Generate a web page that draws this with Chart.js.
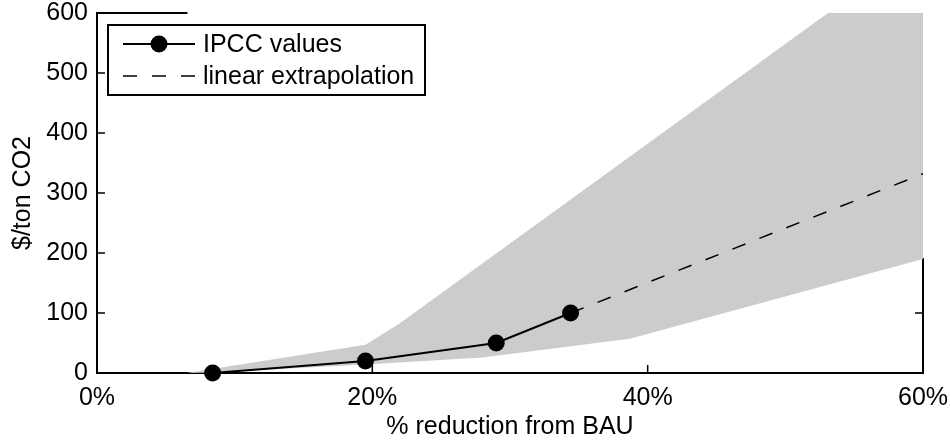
<!DOCTYPE html>
<html>
<head>
<meta charset="utf-8">
<script src="https://cdn.jsdelivr.net/npm/chart.js@4.4.0/dist/chart.umd.min.js"></script>
<style>
  html, body { margin: 0; padding: 0; background: #fff; }
  #wrap { width: 950px; height: 440px; position: relative; }
</style>
</head>
<body>
<div id="wrap"><canvas id="chart"></canvas></div>
<script>
// IPCC marginal cost estimates
const ipccX = [8.4, 19.5, 29, 34.4];
const ipccY = [0, 20, 50, 100];

// dashed extrapolation from the last IPCC point
const extraX = [34.4, 60];
const extraY = [100, 332];

// grey uncertainty band
const upperX = [6.5, 19.5, 22, 53.1, 60];
const upperY = [0, 47, 83, 600, 715];
const lowerX = [6.5, 8.4, 19.5, 28, 38.7, 60];
const lowerY = [0, 1, 14, 26, 57, 190];

const xTicks = [0, 20, 40, 60];
const yTicks = [0, 100, 200, 300, 400, 500, 600];

const FONT = "'Liberation Sans', Arial, Helvetica, sans-serif";
const FS = 25;

const pts = (xs, ys) => xs.map((x, i) => ({ x: x, y: ys[i] }));

const noPad = s => { s.paddingTop = 0; s.paddingBottom = 0; s.paddingLeft = 0; s.paddingRight = 0; };

// matlab-like axes box with inward ticks, drawn under the band
const boxPlugin = {
  id: 'box',
  beforeDatasetsDraw(chart) {
    const { ctx, chartArea: a, scales: { x, y } } = chart;
    const tl = 8;
    ctx.save();
    ctx.strokeStyle = '#000';
    ctx.lineWidth = 2;
    ctx.lineCap = 'square';
    ctx.beginPath();
    // left and bottom full
    ctx.moveTo(a.left, a.top); ctx.lineTo(a.left, a.bottom); ctx.lineTo(a.right, a.bottom);
    // right side only below the band
    const rEnd = y.getPixelForValue(lowerY[lowerY.length - 1]);
    ctx.moveTo(a.right, a.bottom); ctx.lineTo(a.right, rEnd);
    // top only left of the band
    ctx.moveTo(a.left, a.top); ctx.lineTo(x.getPixelForValue(upperX[0]), a.top);
    ctx.stroke();
    // ticks
    ctx.lineWidth = 1.5;
    ctx.lineCap = 'butt';
    ctx.beginPath();
    yTicks.forEach(v => {
      const py = y.getPixelForValue(v);
      ctx.moveTo(a.left, py); ctx.lineTo(a.left + tl, py);
      if (py > rEnd) { ctx.moveTo(a.right, py); ctx.lineTo(a.right - tl, py); }
    });
    xTicks.forEach(v => {
      const px = x.getPixelForValue(v);
      ctx.moveTo(px, a.bottom); ctx.lineTo(px, a.bottom - tl);
    });
    ctx.stroke();
    ctx.restore();
  }
};

// boxed legend: line + marker sample
const legendPlugin = {
  id: 'boxLegend',
  afterDraw(chart) {
    const ctx = chart.ctx;
    const bx = 108, by = 25, bw = 317, bh = 70;
    ctx.save();
    ctx.fillStyle = '#fff';
    ctx.fillRect(bx, by, bw, bh);
    ctx.strokeStyle = '#000';
    ctx.lineWidth = 2;
    ctx.strokeRect(bx, by, bw, bh);
    const rows = [chart.data.datasets[0], chart.data.datasets[1]];
    rows.forEach((ds, i) => {
      const ly = by + 19 + i * 32;
      ctx.beginPath();
      ctx.strokeStyle = ds.borderColor;
      ctx.lineWidth = ds.borderWidth;
      ctx.setLineDash(ds.borderDash || []);
      ctx.moveTo(123, ly); ctx.lineTo(195, ly);
      ctx.stroke();
      ctx.setLineDash([]);
      if (ds.pointRadius) {
        ctx.beginPath();
        ctx.fillStyle = ds.pointBackgroundColor;
        ctx.arc(159, ly, ds.pointRadius, 0, Math.PI * 2);
        ctx.fill();
      }
      ctx.fillStyle = '#000';
      ctx.font = FS + 'px ' + FONT;
      ctx.textBaseline = 'middle';
      ctx.fillText(ds.label, 203, ly + 1);
    });
    ctx.restore();
  }
};

new Chart(document.getElementById('chart'), {
  type: 'line',
  data: {
    datasets: [
      {
        label: 'IPCC values',
        data: pts(ipccX, ipccY),
        borderColor: '#000',
        borderWidth: 2.2,
        pointRadius: 8.5,
        pointBackgroundColor: '#000',
        pointBorderWidth: 0,
        fill: false,
        clip: false,
        order: 0
      },
      {
        label: 'linear extrapolation',
        data: pts(extraX, extraY),
        borderColor: '#000',
        borderWidth: 1.5,
        borderDash: [14, 15],
        pointRadius: 0,
        fill: false,
        order: 1
      },
      {
        label: 'lower',
        data: pts(lowerX, lowerY),
        borderWidth: 0,
        borderColor: 'rgba(0,0,0,0)',
        pointRadius: 0,
        fill: false,
        order: 3
      },
      {
        label: 'upper',
        data: pts(upperX, upperY),
        borderWidth: 0,
        borderColor: 'rgba(0,0,0,0)',
        backgroundColor: '#cccccc',
        pointRadius: 0,
        fill: 2,
        order: 2
      }
    ]
  },
  options: {
    responsive: true,
    maintainAspectRatio: false,
    animation: false,
    layout: { padding: { top: 13, right: 27, left: 0, bottom: 0 } },
    plugins: {
      legend: { display: false },
      tooltip: { enabled: false }
    },
    scales: {
      x: {
        type: 'linear',
        min: 0, max: 60,
        afterFit: s => { s.height = 67; noPad(s); },
        afterBuildTicks: s => { s.ticks = xTicks.map(v => ({ value: v })); },
        grid: { display: false, drawTicks: false },
        border: { display: false },
        ticks: {
          color: '#000',
          font: { family: FONT, size: FS },
          padding: 10,
          maxRotation: 0,
          callback: v => v + '%'
        },
        title: {
          display: true,
          text: '% reduction from BAU',
          color: '#000',
          font: { family: FONT, size: FS, lineHeight: 1 },
          padding: { top: 0, bottom: 0 }
        }
      },
      y: {
        type: 'linear',
        min: 0, max: 600,
        afterFit: s => { s.width = 97; noPad(s); },
        afterBuildTicks: s => { s.ticks = yTicks.map(v => ({ value: v })); },
        grid: { display: false, drawTicks: false },
        border: { display: false },
        ticks: {
          color: '#000',
          font: { family: FONT, size: FS },
          padding: 9
        },
        title: {
          display: true,
          text: '$/ton CO2',
          color: '#000',
          font: { family: FONT, size: FS },
          padding: { top: 8, bottom: 0 }
        }
      }
    }
  },
  plugins: [boxPlugin, legendPlugin]
});
</script>
</body>
</html>
